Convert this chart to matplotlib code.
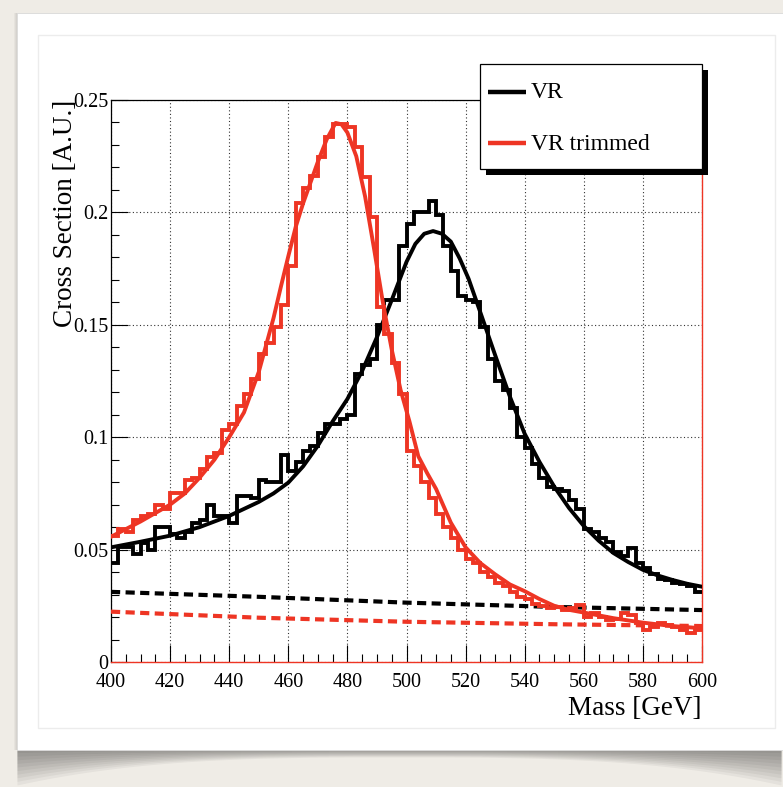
"""VR vs VR-trimmed mass spectra with fits, ROOT style, on a photo-card frame."""
import numpy as np
import matplotlib
matplotlib.use("Agg")
import matplotlib.pyplot as plt
from matplotlib.patches import Rectangle
from matplotlib.ticker import MultipleLocator, FormatStrFormatter

# ---- data ----
bin_edges = np.linspace(400, 600, 81)   # 2.5 GeV bins

vr_counts = [
    0.044, 0.051, 0.051, 0.048, 0.053, 0.050, 0.060, 0.060, 0.057, 0.055,
    0.058, 0.062, 0.063, 0.070, 0.065, 0.065, 0.062, 0.074, 0.074, 0.073,
    0.081, 0.080, 0.080, 0.092, 0.085, 0.089, 0.094, 0.096, 0.102, 0.106,
    0.106, 0.108, 0.110, 0.128, 0.132, 0.135, 0.150, 0.161, 0.161, 0.185,
    0.195, 0.200, 0.200, 0.205, 0.199, 0.185, 0.174, 0.163, 0.161, 0.160,
    0.149, 0.135, 0.125, 0.121, 0.113, 0.100, 0.095, 0.088, 0.082, 0.078,
    0.077, 0.076, 0.072, 0.068, 0.059, 0.058, 0.055, 0.0535, 0.049, 0.047,
    0.0505, 0.044, 0.0416, 0.039, 0.037, 0.0364, 0.035, 0.0347, 0.034, 0.031,
]
trim_counts = [
    0.056, 0.059, 0.058, 0.063, 0.065, 0.066, 0.070, 0.068, 0.075, 0.075,
    0.081, 0.082, 0.086, 0.091, 0.093, 0.103, 0.106, 0.114, 0.119, 0.126,
    0.137, 0.142, 0.149, 0.159, 0.176, 0.204, 0.211, 0.216, 0.2246, 0.2335,
    0.2394, 0.2394, 0.238, 0.229, 0.2157, 0.198, 0.158, 0.146, 0.133, 0.119,
    0.094, 0.087, 0.080, 0.073, 0.066, 0.060, 0.055, 0.050, 0.046, 0.044,
    0.040, 0.038, 0.035, 0.034, 0.031, 0.029, 0.028, 0.026, 0.025, 0.024,
    0.0246, 0.0231, 0.0239, 0.0253, 0.0201, 0.0216, 0.020, 0.0187, 0.019, 0.0216,
    0.021, 0.0172, 0.0142, 0.0157, 0.0172, 0.0165, 0.0157, 0.0142, 0.0127, 0.0142,
]

vr_fit_mass = [400, 410, 420, 430, 440, 450, 455, 460, 465, 470, 475, 480, 485,
               490, 495, 500, 503, 506, 509, 512, 515, 518, 521, 525, 530, 535,
               540, 545, 550, 555, 560, 565, 570, 575, 580, 585, 590, 595, 600]
vr_fit = [0.0510, 0.0535, 0.0562, 0.0600, 0.0650, 0.0712, 0.0750, 0.0798, 0.0870,
          0.0962, 0.1070, 0.1170, 0.1295, 0.1445, 0.1610, 0.1780, 0.1860, 0.1905,
          0.1917, 0.1905, 0.1870, 0.1795, 0.1705, 0.1555, 0.1365, 0.1180, 0.1015,
          0.0890, 0.0780, 0.0685, 0.0605, 0.0540, 0.0485, 0.0445, 0.0410, 0.0385,
          0.0365, 0.0348, 0.0335]

trim_fit_mass = [400, 410, 420, 425, 430, 435, 440, 445, 450, 455, 457.5, 460,
                 462.5, 465, 470, 473, 476, 478, 480, 483, 486, 489, 492, 495,
                 498, 501, 504, 507, 510, 515, 520, 525, 530, 535, 540, 545, 550,
                 555, 560, 570, 580, 590, 600]
trim_fit = [0.0557, 0.0625, 0.0700, 0.0750, 0.0820, 0.0900, 0.1000, 0.1110, 0.1290,
            0.1530, 0.1670, 0.1805, 0.1935, 0.2040, 0.2225, 0.2325, 0.2398, 0.2392,
            0.2355, 0.2250, 0.2070, 0.1840, 0.1600, 0.1390, 0.1210, 0.1070, 0.0915,
            0.0840, 0.0770, 0.0620, 0.0510, 0.0440, 0.0390, 0.0345, 0.0315, 0.0280,
            0.0250, 0.0232, 0.0220, 0.0195, 0.0175, 0.0160, 0.0150]

bkg_mass = [400, 450, 500, 550, 600]
vr_bkg = [0.0312, 0.0290, 0.0264, 0.0245, 0.0231]
trim_bkg = [0.0224, 0.0197, 0.0179, 0.0168, 0.0160]

labels = ["VR", "VR trimmed"]
RED = "#ee3524"
W, H = 783, 787

plt.rcParams["font.family"] = ["Liberation Serif", "DejaVu Serif"]

fig = plt.figure(figsize=(W / 100, H / 100), dpi=100, facecolor="#efece6")

# ---- photo-card frame ----
bg = fig.add_axes([0, 0, 1, 1], zorder=-5)
bg.set_xlim(0, W); bg.set_ylim(H, 0); bg.axis("off")
xs = np.linspace(17, 781, 200)
depth = 8 + 28 * np.abs((xs - 399) / 382) ** 3
for t in np.linspace(0.1, 1.0, 10):
    bg.fill_between(xs, 749, 749 + t * depth, color="k", alpha=0.045, lw=0)
for k in range(4):
    bg.add_patch(Rectangle((17 - k, 13), 770, 737, fc="k", alpha=0.035, lw=0))
bg.add_patch(Rectangle((17, 13), 770, 737, fc="white", ec="#dcdcdc", lw=0.6))
bg.add_patch(Rectangle((38, 35), 737, 693, fc="none", ec="#ececec", lw=1.0))

# ---- main plot ----
ax = fig.add_axes([111 / W, 125 / H, 591 / W, 562 / H])
ax.set_facecolor("white")
ax.set_xlim(400, 600)
ax.set_ylim(0, 0.25)

ax.grid(True, which="major", color="#333333", linestyle=(0, (1, 2.2)), lw=0.8)
ax.set_axisbelow(True)

ax.stairs(vr_counts, bin_edges, color="black", lw=2.8, baseline=None, zorder=3)
ax.plot(vr_fit_mass, vr_fit, color="black", lw=2.8, zorder=4, label=labels[0])
ax.plot(bkg_mass, vr_bkg, color="black", lw=3.0, dashes=(2.2, 1.3), zorder=4)
ax.stairs(trim_counts, bin_edges, color=RED, lw=2.8, baseline=None, zorder=5)
ax.plot(trim_fit_mass, trim_fit, color=RED, lw=2.8, zorder=6, label=labels[1])
ax.plot(bkg_mass, trim_bkg, color=RED, lw=3.0, dashes=(2.2, 1.3), zorder=6)

ax.xaxis.set_major_locator(MultipleLocator(20))
ax.xaxis.set_minor_locator(MultipleLocator(5))
ax.yaxis.set_major_locator(MultipleLocator(0.05))
ax.yaxis.set_minor_locator(MultipleLocator(0.01))
ax.yaxis.set_major_formatter(FormatStrFormatter("%g"))
ax.tick_params(which="both", direction="in", top=False, right=False,
               width=0.8, labelsize=14.5)
ax.tick_params(which="major", length=12.5)
ax.tick_params(which="minor", length=6)
ax.tick_params(axis="x", pad=8)
ax.tick_params(axis="y", pad=2)
for s in ("left", "top"):
    ax.spines[s].set_linewidth(0.9)
for s in ("right", "bottom"):
    ax.spines[s].set_color(RED)
    ax.spines[s].set_linewidth(1.0)

ax.set_xlabel("Mass [GeV]", loc="right", fontsize=19.5)
ax.xaxis.set_label_coords(1.0, -0.06)
ax.set_ylabel("Cross Section [A.U.]", loc="top", fontsize=19.5)
ax.yaxis.set_label_coords(-0.056, 1.0)

# ---- ROOT-style legend box with solid shadow ----
ov = fig.add_axes([0, 0, 1, 1], zorder=10)
ov.set_xlim(0, W); ov.set_ylim(H, 0); ov.axis("off")
ov.add_patch(Rectangle((486, 70), 222, 105, fc="black", lw=0))
ov.add_patch(Rectangle((480, 64), 222, 105, fc="white", ec="black", lw=0.9))
for ln, yy in zip(ax.get_lines()[::2], (92, 143)):
    ov.plot([488, 526], [yy, yy], color=ln.get_color(), lw=3.2, solid_capstyle="butt")
    ov.text(531, yy + 1, ln.get_label(), fontsize=17, va="center", ha="left")

fig.savefig("out.png", dpi=100, facecolor=fig.get_facecolor())
